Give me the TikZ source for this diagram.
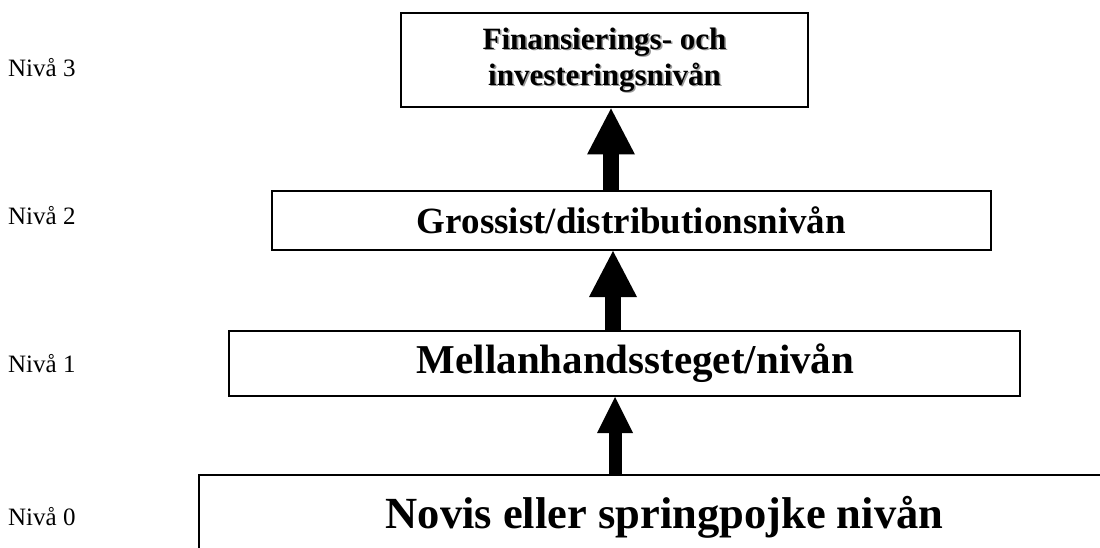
\documentclass[tikz,border=0pt]{standalone}
\usepackage{fontspec}
\setmainfont{Liberation Serif}
\usetikzlibrary{arrows.meta}
\newcommand{\shadowed}[1]{\rlap{\kern1.6pt\raisebox{-1.6pt}{\color{black!40}#1}}#1}
\begin{document}
\begin{tikzpicture}[x=1pt,y=-1pt,
  box/.style={draw=black, line width=2pt, fill=white, inner sep=0pt},
  lvl/.style={anchor=west, font=\fontsize{25}{30}\selectfont, inner sep=0pt},
  bigup/.style={line width=16pt, -{Triangle[width=48pt,length=46pt,line width=0pt]}},
  smallup/.style={line width=13pt, -{Triangle[width=36pt,length=36pt,line width=0pt]}},
]
\path[use as bounding box, clip] (0,0) rectangle (1100,548);
\fill[white] (0,0) rectangle (1100,548);

% boxes
\node[box, minimum width=407pt, minimum height=94pt, align=center,
      font=\bfseries\fontsize{31}{36}\selectfont] (n3) at (604.5,60.5)
      {\shadowed{Finansierings- och}\\\shadowed{investeringsnivån}};

\node[box, minimum width=719pt, minimum height=59pt,
      font=\bfseries\fontsize{37}{42}\selectfont] (n2) at (631.5,220.5) {Grossist/distributionsnivån};

\node[box, minimum width=791pt, minimum height=65pt,
      font=\bfseries\fontsize{41}{46}\selectfont] (n1) at (624.5,363.5) {\hspace*{22pt}Mellanhandssteget/nivån};

\node[box, minimum width=931pt, minimum height=85pt,
      font=\bfseries\fontsize{44.5}{50}\selectfont] (n0) at (664.5,517.5) {Novis eller springpojke nivån};

% level labels
\node[lvl] (l3) at (8,68) {Nivå 3};
\node[lvl] (l2) at (8,216) {Nivå 2};
\node[lvl] (l1) at (8,364) {Nivå 1};
\node[lvl] (l0) at (8,517) {Nivå 0};

% arrows
\coordinate (a1) at (611,0);
\coordinate (a2) at (613,0);
\coordinate (a3) at (615,0);
\draw[bigup] (n2.north -| a1) -- (n3.south -| a1);
\draw[bigup] (n1.north -| a2) -- (n2.south -| a2);
\draw[smallup] (n0.north -| a3) -- (n1.south -| a3);
\end{tikzpicture}
\end{document}
